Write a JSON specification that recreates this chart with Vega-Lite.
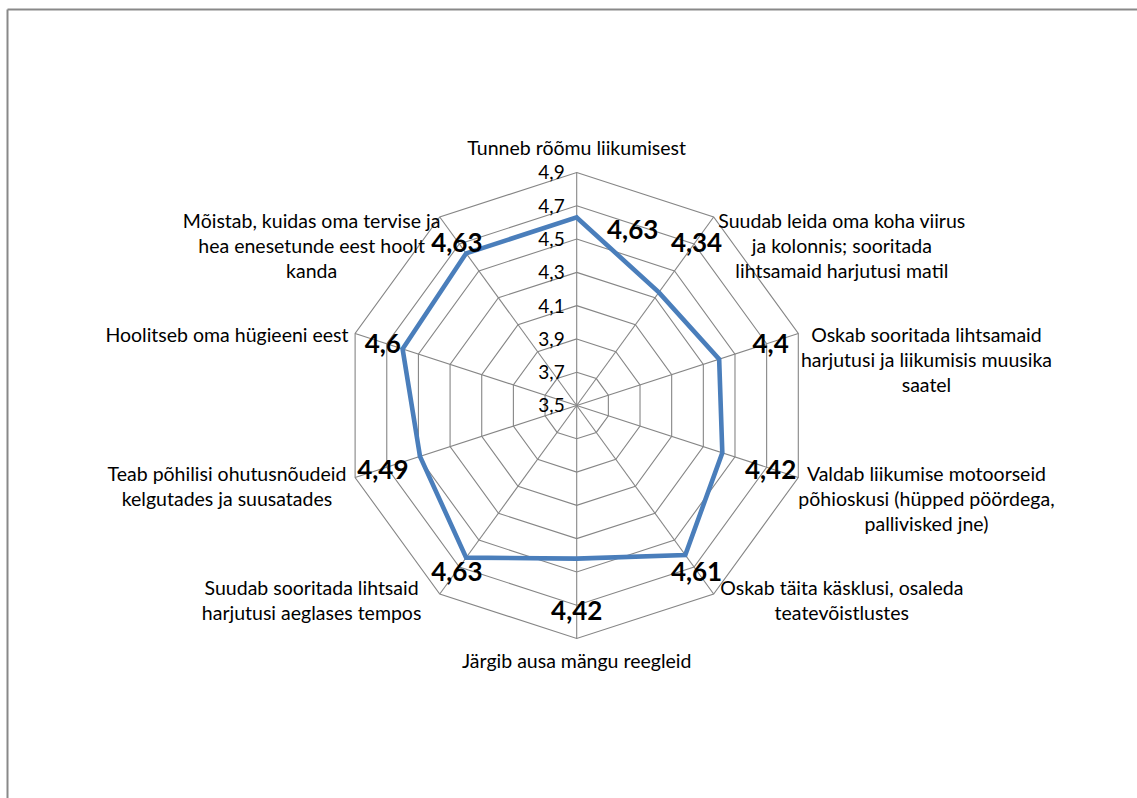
{
  "$schema": "https://vega.github.io/schema/vega-lite/v6.json",
  "width": 1130,
  "height": 789,
  "autosize": {"type": "none"},
  "padding": {"left": 7, "top": 9, "right": 0, "bottom": 0},
  "background": "white",
  "config": {
    "view": {"stroke": null},
    "font": "Lato"
  },
  "datasets": {
    "items": [
      {"k": 0, "label": "Tunneb rõõmu liikumisest", "value": 4.63},
      {"k": 1, "label": "Suudab leida oma koha viirus\nja kolonnis; sooritada\nlihtsamaid harjutusi matil", "value": 4.34},
      {"k": 2, "label": "Oskab sooritada lihtsamaid\nharjutusi ja liikumisis muusika\nsaatel", "value": 4.4},
      {"k": 3, "label": "Valdab liikumise motoorseid\npõhioskusi (hüpped pöördega,\npallivisked jne)", "value": 4.42},
      {"k": 4, "label": "Oskab täita käsklusi, osaleda\nteatevõistlustes", "value": 4.61},
      {"k": 5, "label": "Järgib ausa mängu reegleid", "value": 4.42},
      {"k": 6, "label": "Suudab sooritada lihtsaid\nharjutusi aeglases tempos", "value": 4.63},
      {"k": 7, "label": "Teab põhilisi ohutusnõudeid\nkelgutades ja suusatades", "value": 4.49},
      {"k": 8, "label": "Hoolitseb oma hügieeni eest", "value": 4.6},
      {"k": 9, "label": "Mõistab, kuidas oma tervise ja\nhea enesetunde eest hoolt\nkanda", "value": 4.63}
    ],
    "levels": [
      {"level": 3.5, "k": [0, 1, 2, 3, 4, 5, 6, 7, 8, 9]},
      {"level": 3.7, "k": [0, 1, 2, 3, 4, 5, 6, 7, 8, 9]},
      {"level": 3.9, "k": [0, 1, 2, 3, 4, 5, 6, 7, 8, 9]},
      {"level": 4.1, "k": [0, 1, 2, 3, 4, 5, 6, 7, 8, 9]},
      {"level": 4.3, "k": [0, 1, 2, 3, 4, 5, 6, 7, 8, 9]},
      {"level": 4.5, "k": [0, 1, 2, 3, 4, 5, 6, 7, 8, 9]},
      {"level": 4.7, "k": [0, 1, 2, 3, 4, 5, 6, 7, 8, 9]},
      {"level": 4.9, "k": [0, 1, 2, 3, 4, 5, 6, 7, 8, 9]}
    ]
  },
  "layer": [
    {
      "data": {"name": "levels"},
      "transform": [
        {"filter": "datum.level > 3.5"},
        {"flatten": ["k"]},
        {"calculate": "datum.k * PI / 5", "as": "a"},
        {"calculate": "(datum.level - 3.5) * sin(datum.a)", "as": "px"},
        {"calculate": "(datum.level - 3.5) * cos(datum.a)", "as": "py"}
      ],
      "mark": {"type": "line", "interpolate": "linear-closed", "color": "#868686", "strokeWidth": 1.1},
      "encoding": {
        "x": {"field": "px", "type": "quantitative", "scale": {"domain": [-3.4231, 3.3666], "nice": false, "zero": false}, "axis": {"orient": "top", "labels": false, "ticks": false, "grid": false, "title": null, "domainColor": "#898989", "domainWidth": 2}},
        "y": {"field": "py", "type": "quantitative", "scale": {"domain": [-2.3584, 2.3824], "nice": false, "zero": false}, "axis": {"orient": "left", "labels": false, "ticks": false, "grid": false, "title": null, "domainColor": "#898989", "domainWidth": 2}},
        "detail": {"field": "level", "type": "nominal"},
        "order": {"field": "k", "type": "quantitative"}
      }
    },
    {
      "data": {"name": "items"},
      "transform": [
        {"calculate": "datum.k * PI / 5", "as": "a"},
        {"calculate": "1.4 * sin(datum.a)", "as": "ox"},
        {"calculate": "1.4 * cos(datum.a)", "as": "oy"},
        {"calculate": "0", "as": "cx"}
      ],
      "mark": {"type": "rule", "color": "#868686", "strokeWidth": 1.1},
      "encoding": {
        "x": {"field": "ox", "type": "quantitative", "scale": {"domain": [-3.4231, 3.3666], "nice": false, "zero": false}, "axis": {"orient": "top", "labels": false, "ticks": false, "grid": false, "title": null, "domainColor": "#898989", "domainWidth": 2}},
        "y": {"field": "oy", "type": "quantitative", "scale": {"domain": [-2.3584, 2.3824], "nice": false, "zero": false}, "axis": {"orient": "left", "labels": false, "ticks": false, "grid": false, "title": null, "domainColor": "#898989", "domainWidth": 2}},
        "x2": {"field": "cx"},
        "y2": {"field": "cx"}
      }
    },
    {
      "data": {"name": "items"},
      "transform": [
        {"calculate": "datum.k * PI / 5", "as": "a"},
        {"calculate": "(datum.value - 3.5) * sin(datum.a)", "as": "px"},
        {"calculate": "(datum.value - 3.5) * cos(datum.a)", "as": "py"}
      ],
      "mark": {"type": "line", "interpolate": "linear-closed", "color": "#4A7EBB", "strokeWidth": 4.6, "strokeJoin": "miter"},
      "encoding": {
        "x": {"field": "px", "type": "quantitative", "scale": {"domain": [-3.4231, 3.3666], "nice": false, "zero": false}, "axis": {"orient": "top", "labels": false, "ticks": false, "grid": false, "title": null, "domainColor": "#898989", "domainWidth": 2}},
        "y": {"field": "py", "type": "quantitative", "scale": {"domain": [-2.3584, 2.3824], "nice": false, "zero": false}, "axis": {"orient": "left", "labels": false, "ticks": false, "grid": false, "title": null, "domainColor": "#898989", "domainWidth": 2}},
        "order": {"field": "k", "type": "quantitative"}
      }
    },
    {
      "data": {"name": "levels"},
      "transform": [
        {"calculate": "datum.level - 3.5", "as": "ry"},
        {"calculate": "0", "as": "cx"},
        {"calculate": "replace(format(datum.level, '.1f'), '.', ',')", "as": "lab"}
      ],
      "mark": {"type": "text", "align": "right", "baseline": "middle", "dx": -12, "dy": 1, "fontSize": 19, "color": "#000000"},
      "encoding": {
        "x": {"field": "cx", "type": "quantitative", "scale": {"domain": [-3.4231, 3.3666], "nice": false, "zero": false}, "axis": {"orient": "top", "labels": false, "ticks": false, "grid": false, "title": null, "domainColor": "#898989", "domainWidth": 2}},
        "y": {"field": "ry", "type": "quantitative", "scale": {"domain": [-2.3584, 2.3824], "nice": false, "zero": false}, "axis": {"orient": "left", "labels": false, "ticks": false, "grid": false, "title": null, "domainColor": "#898989", "domainWidth": 2}},
        "text": {"field": "lab"}
      }
    },
    {
      "data": {"name": "items"},
      "transform": [
        {"calculate": "datum.k * PI / 5", "as": "a"},
        {"calculate": "abs(sin(datum.a)) < 0.01 ? 0 : 1.4 * sin(datum.a) + (sin(datum.a) > 0 ? 0.77 : -0.77)", "as": "lx"},
        {"calculate": "abs(sin(datum.a)) < 0.01 ? 1.54 * cos(datum.a) : 1.36 * cos(datum.a)", "as": "ly"}
      ],
      "mark": {"type": "text", "align": "center", "baseline": "middle", "fontSize": 19.5, "lineHeight": 25, "lineBreak": "\n", "color": "#000000"},
      "encoding": {
        "x": {"field": "lx", "type": "quantitative", "scale": {"domain": [-3.4231, 3.3666], "nice": false, "zero": false}, "axis": {"orient": "top", "labels": false, "ticks": false, "grid": false, "title": null, "domainColor": "#898989", "domainWidth": 2}},
        "y": {"field": "ly", "type": "quantitative", "scale": {"domain": [-2.3584, 2.3824], "nice": false, "zero": false}, "axis": {"orient": "left", "labels": false, "ticks": false, "grid": false, "title": null, "domainColor": "#898989", "domainWidth": 2}},
        "text": {"field": "label"}
      }
    },
    {
      "data": {"name": "items"},
      "transform": [
        {"calculate": "datum.k * PI / 5", "as": "a"},
        {"calculate": "datum.k == 0 ? 0.336 : 1.225 * sin(datum.a)", "as": "dlx"},
        {"calculate": "datum.k == 0 ? 1.067 : 1.225 * cos(datum.a)", "as": "dly"},
        {"calculate": "replace(datum.value + '', '.', ',')", "as": "vlab"}
      ],
      "mark": {"type": "text", "align": "center", "baseline": "middle", "dy": 3, "fontSize": 26, "fontWeight": "bold", "color": "#000000"},
      "encoding": {
        "x": {"field": "dlx", "type": "quantitative", "scale": {"domain": [-3.4231, 3.3666], "nice": false, "zero": false}, "axis": {"orient": "top", "labels": false, "ticks": false, "grid": false, "title": null, "domainColor": "#898989", "domainWidth": 2}},
        "y": {"field": "dly", "type": "quantitative", "scale": {"domain": [-2.3584, 2.3824], "nice": false, "zero": false}, "axis": {"orient": "left", "labels": false, "ticks": false, "grid": false, "title": null, "domainColor": "#898989", "domainWidth": 2}},
        "text": {"field": "vlab"}
      }
    }
  ]
}
